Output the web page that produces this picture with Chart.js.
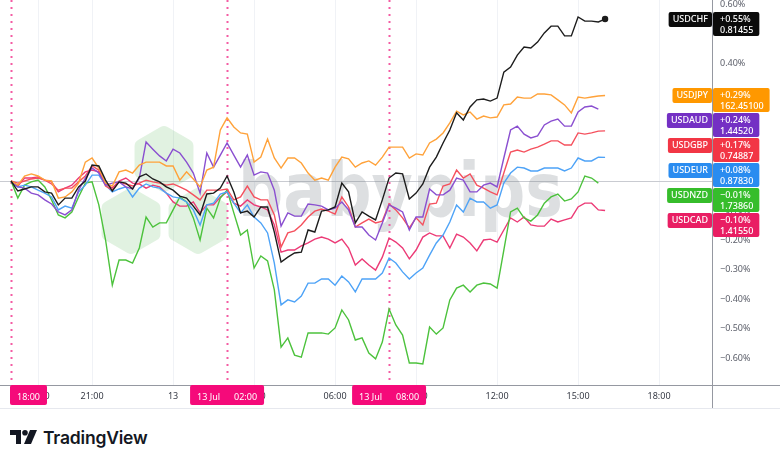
<!DOCTYPE html>
<html>
<head>
<meta charset="utf-8">
<script src="https://cdn.jsdelivr.net/npm/chart.js@4.4.1/dist/chart.umd.min.js"></script>
<style>
  html, body { margin: 0; padding: 0; background: #fff; }
  body { width: 780px; height: 462px; position: relative; overflow: hidden; font-family: "Noto Sans", sans-serif; }
  #wrap { position: absolute; left: 0; top: 0; width: 780px; height: 410px; }
  #logo { position: absolute; left: 10px; top: 426px; height: 22px; display: flex; align-items: center; gap: 6px; color: #131722; }
  #logo span { font-family: Inter, "Noto Sans", sans-serif; font-weight: 600; font-size: 17.5px; letter-spacing: -0.2px; }
</style>
</head>
<body>
<div id="wrap"><canvas id="perfChart" width="780" height="410"></canvas></div>
<div id="logo">
  <svg width="27" height="14" viewBox="0 0 27 14">
    <path d="M0 0 H11 V14 H6 V5 H0 Z" fill="#131722"/>
    <circle cx="15" cy="2.8" r="2.8" fill="#131722"/>
    <path d="M20 0 H27 L21 14 H14 Z" fill="#131722"/>
  </svg>
  <span>TradingView</span>
</div>
<script>
/* ---- DATA: % change since 12 Jul 18:00, 15-minute bars ---- */
const SYMBOLS = ['USDCHF', 'USDJPY', 'USDAUD', 'USDGBP', 'USDEUR', 'USDNZD', 'USDCAD'];
const PRICES  = ['0.81455', '162.45100', '1.44520', '0.74887', '0.87830', '1.73860', '1.41550'];

// hours relative to 13 Jul 00:00 (12 Jul 18:00 -> 13 Jul 16:00)
const HOURS = Array.from({ length: 89 }, (_, i) => -6 + i * 0.25);

const usdchf = [0, -0.034, -0.027, -0.02, -0.02, -0.037, -0.041, -0.081, -0.058, -0.058,
  -0.02, 0, 0.054, 0.051, 0.003, -0.034, -0.003, -0.007, -0.027, 0.014,
  0.024, 0.007, -0.003, -0.02, -0.031, -0.051, -0.058, -0.085, -0.115, -0.044,
  -0.041, -0.024, 0.017, -0.037, -0.108, -0.102, -0.122, -0.088, -0.088, -0.173,
  -0.275, -0.258, -0.244, -0.241, -0.166, -0.173, -0.102, -0.098, -0.088, -0.007,
  -0.037, -0.142, -0.105, -0.119, -0.132, -0.064, 0.01, 0.027, 0.024, -0.061,
  -0.041, -0.01, 0.047, 0.081, 0.129, 0.173, 0.231, 0.207, 0.251, 0.275,
  0.278, 0.271, 0.281, 0.369, 0.386, 0.427, 0.454, 0.451, 0.471, 0.502,
  0.525, 0.525, 0.492, 0.492, 0.556, 0.542, 0.542, 0.539, 0.549];

const usdjpy = [0, -0.014, 0.017, 0.024, 0.017, 0.003, 0, -0.058, -0.054, -0.037,
  -0.007, 0.064, 0.078, 0.044, -0.007, -0.017, 0.031, 0.037, 0.027, 0.054,
  0.064, 0.064, 0.064, 0.051, 0.051, 0.003, 0.031, 0.007, -0.02, 0.037,
  0.047, 0.173, 0.214, 0.183, 0.163, 0.159, 0.064, 0.081, 0.142, 0.078,
  0.044, 0.078, 0.078, 0.061, 0.027, 0.003, 0.01, 0.003, 0.047, 0.081,
  0.075, 0.047, 0.061, 0.068, 0.054, 0.081, 0.115, 0.115, 0.115, 0.078,
  0.092, 0.088, 0.129, 0.142, 0.163, 0.197, 0.237, 0.224, 0.234, 0.21,
  0.22, 0.214, 0.217, 0.258, 0.261, 0.285, 0.281, 0.281, 0.295, 0.295,
  0.292, 0.275, 0.258, 0.231, 0.285, 0.281, 0.285, 0.288, 0.29];

const usdaud = [-0.003, -0.02, -0.024, -0.041, -0.047, -0.064, -0.078, -0.105, -0.115, -0.098,
  -0.031, 0.01, 0.044, 0.027, -0.014, -0.007, -0.003, -0.02, -0.027, 0.01,
  0.132, 0.108, 0.085, 0.068, 0.108, 0.095, 0.064, 0.027, -0.041, 0.095,
  0.047, 0.088, 0.129, 0.088, 0.047, 0.088, 0.02, 0.031, 0.027, -0.031,
  -0.153, -0.108, -0.119, -0.119, -0.078, -0.081, -0.085, -0.098, -0.092, -0.071,
  -0.098, -0.156, -0.156, -0.183, -0.2, -0.142, -0.081, -0.092, -0.105, -0.166,
  -0.122, -0.122, -0.027, -0.047, -0.047, -0.031, 0.01, 0.003, -0.037, -0.037,
  -0.014, -0.007, -0.02, 0.078, 0.173, 0.186, 0.159, 0.146, 0.153, 0.19,
  0.203, 0.21, 0.186, 0.186, 0.234, 0.251, 0.254, 0.244, null];

const usdgbp = [0, -0.007, 0, 0.007, 0.01, 0.003, -0.01, -0.031, -0.024, -0.024,
  -0.003, 0.017, 0.051, 0.037, -0.017, -0.031, -0.003, -0.01, -0.017, -0.007,
  0.003, -0.003, -0.007, -0.014, -0.01, -0.02, -0.031, -0.047, -0.064, -0.031,
  -0.031, -0.031, -0.027, -0.064, -0.054, -0.017, -0.054, -0.064, -0.064, -0.115,
  -0.224, -0.176, -0.169, -0.149, -0.122, -0.102, -0.095, -0.102, -0.112, -0.054,
  -0.088, -0.156, -0.142, -0.129, -0.142, -0.136, -0.078, -0.098, -0.125, -0.159,
  -0.125, -0.149, -0.078, -0.075, -0.017, -0.01, 0.037, 0.01, 0.024, -0.014,
  -0.024, -0.037, -0.047, 0.027, 0.098, 0.105, 0.098, 0.108, 0.115, 0.125,
  0.136, 0.136, 0.122, 0.122, 0.163, 0.159, 0.163, 0.169, 0.17];

const usdeur = [0, -0.02, -0.014, -0.02, -0.031, -0.041, -0.054, -0.098, -0.085, -0.092,
  -0.037, -0.014, 0.02, 0.02, -0.014, -0.037, -0.027, -0.02, -0.054, -0.024,
  -0.01, -0.02, -0.024, -0.041, -0.054, -0.058, -0.071, -0.098, -0.149, -0.081,
  -0.075, -0.044, -0.037, -0.075, -0.108, -0.081, -0.122, -0.142, -0.176, -0.278,
  -0.42, -0.403, -0.41, -0.39, -0.346, -0.346, -0.332, -0.332, -0.353, -0.322,
  -0.342, -0.376, -0.332, -0.332, -0.332, -0.312, -0.261, -0.278, -0.308, -0.332,
  -0.312, -0.295, -0.251, -0.21, -0.183, -0.139, -0.081, -0.105, -0.058, -0.071,
  -0.071, -0.092, -0.081, -0.007, 0.027, 0.047, 0.044, 0.034, 0.034, 0.044,
  0.044, 0.044, 0.034, 0.044, 0.078, 0.068, 0.068, 0.081, 0.08];

const usdnzd = [0, -0.058, -0.014, -0.003, 0.003, -0.02, -0.064, -0.115, -0.125, -0.105,
  -0.054, -0.007, -0.003, -0.081, -0.2, -0.353, -0.268, -0.268, -0.278, -0.227,
  -0.122, -0.156, -0.142, -0.142, -0.098, -0.054, -0.071, -0.125, -0.2, -0.092,
  -0.125, -0.058, -0.031, -0.108, -0.183, -0.166, -0.295, -0.254, -0.271, -0.369,
  -0.563, -0.532, -0.59, -0.597, -0.515, -0.515, -0.515, -0.519, -0.498, -0.437,
  -0.471, -0.539, -0.532, -0.583, -0.603, -0.546, -0.434, -0.488, -0.522, -0.617,
  -0.617, -0.62, -0.495, -0.519, -0.498, -0.403, -0.363, -0.353, -0.376, -0.353,
  -0.346, -0.349, -0.363, -0.234, -0.105, -0.092, -0.125, -0.136, -0.115, -0.075,
  -0.054, -0.044, -0.068, -0.061, -0.037, 0.017, 0.01, -0.007, null];

const usdcad = [0, -0.017, 0.01, 0.01, 0.014, 0.003, -0.003, -0.037, -0.024, -0.014,
  0.01, 0.031, 0.037, 0.031, -0.01, -0.024, 0, 0.01, -0.007, -0.01,
  -0.024, -0.014, -0.02, -0.041, -0.071, -0.085, -0.085, -0.071, -0.108, -0.081,
  -0.081, -0.054, -0.037, -0.075, -0.085, -0.064, -0.081, -0.088, -0.098, -0.149,
  -0.241, -0.234, -0.234, -0.22, -0.21, -0.197, -0.19, -0.197, -0.21, -0.197,
  -0.227, -0.285, -0.264, -0.285, -0.302, -0.258, -0.193, -0.207, -0.227, -0.264,
  -0.234, -0.19, -0.176, -0.186, -0.186, -0.227, -0.18, -0.19, -0.21, -0.237,
  -0.2, -0.197, -0.207, -0.166, -0.125, -0.139, -0.122, -0.149, -0.153, -0.153,
  -0.129, -0.139, -0.132, -0.125, -0.088, -0.075, -0.075, -0.098, -0.1];

const SERIES = [usdchf, usdjpy, usdaud, usdgbp, usdeur, usdnzd, usdcad];

const TIME_TICKS  = [-5, -3, 0, 3, 6, 9, 12, 15, 18];
const TIME_LABELS = ['19:00', '21:00', '13', '03:00', '06:00', '09:00', '12:00', '15:00', '18:00'];
const SESSION_HOURS  = [-6, 2, 8];
const SESSION_DATES  = ['', '13 Jul', '13 Jul'];
const SESSION_LABELS = ['18:00', '02:00', '08:00'];

/* ---- STYLE ---- */
const LINE_COLORS  = ['#1c1c1c', '#ffa23a', '#8a4fd0', '#f5515e', '#4ea3f7', '#4cc23c', '#ec3a76'];
const BADGE_COLORS = ['#0b0b0b', '#ff9800', '#7430c4', '#f23645', '#2a8cf0', '#36bd2b', '#e91e63'];
const X_VIEW = [-6.41, 19.96];
const Y_VIEW = [-0.6915, 0.6136];
const FONT = '"Noto Sans", "Liberation Sans", sans-serif';
const PINK = '#f50a7a';

function fmtPct(v) {
  return (v < 0 ? '\u2212' : (v > 0 ? '+' : '')) + Math.abs(v).toFixed(2) + '%';
}

function roundedHex(ctx, cx, cy, r, rad) {
  const pts = [];
  for (let i = 0; i < 6; i++) {
    const a = Math.PI / 180 * (60 * i - 90);
    pts.push([cx + r * Math.cos(a), cy + r * Math.sin(a)]);
  }
  ctx.beginPath();
  ctx.moveTo((pts[5][0] + pts[0][0]) / 2, (pts[5][1] + pts[0][1]) / 2);
  for (let i = 0; i < 6; i++) {
    const p = pts[i], n = pts[(i + 1) % 6];
    ctx.arcTo(p[0], p[1], n[0], n[1], rad);
  }
  ctx.closePath();
  ctx.fill();
}

const overlay = {
  id: 'overlay',
  beforeDatasetsDraw(chart) {
    const { ctx, chartArea: a, scales: { x } } = chart;
    ctx.save();
    // babypips watermark
    ctx.fillStyle = 'rgba(76,175,80,0.17)';
    roundedHex(ctx, 164, 159, 34, 7);
    roundedHex(ctx, 131, 221, 34, 7);
    roundedHex(ctx, 198, 221, 34, 7);
    ctx.font = 'bold 74px "DejaVu Sans", sans-serif';
    ctx.fillStyle = 'rgba(110,115,125,0.23)';
    ctx.textBaseline = 'alphabetic';
    const w = ctx.measureText('babypips').width;
    ctx.translate(238, 216);
    ctx.scale(325 / w, 1);
    ctx.fillText('babypips', 0, 0);
    ctx.restore();

    // session separators
    ctx.save();
    ctx.strokeStyle = '#f45ca3';
    ctx.lineWidth = 2;
    ctx.setLineDash([2, 5]);
    SESSION_HOURS.forEach(h => {
      const px = Math.round(x.getPixelForValue(h)) + 0.5;
      ctx.beginPath();
      ctx.moveTo(px, a.top);
      ctx.lineTo(px, a.bottom);
      ctx.stroke();
    });
    ctx.restore();
  },
  afterDraw(chart) {
    const { ctx, chartArea: a, scales: { x, y } } = chart;
    ctx.save();
    // axis frame bits outside the plot
    ctx.strokeStyle = '#9598a1';
    ctx.lineWidth = 1;
    ctx.beginPath();
    ctx.moveTo(a.right, a.bottom + 0.5); ctx.lineTo(780, a.bottom + 0.5);
    ctx.moveTo(a.right + 0.5, a.bottom); ctx.lineTo(a.right + 0.5, 409);
    ctx.stroke();
    ctx.strokeStyle = '#e6e8ee';
    ctx.beginPath();
    ctx.moveTo(0, 408.5); ctx.lineTo(780, 408.5);
    ctx.stroke();

    // session time badges
    ctx.font = '9px ' + FONT;
    ctx.textBaseline = 'middle';
    ctx.textAlign = 'left';
    SESSION_HOURS.forEach((h, k) => {
      const px = x.getPixelForValue(h);
      const dW = SESSION_DATES[k] ? ctx.measureText(SESSION_DATES[k]).width + 14 : 0;
      const tW = ctx.measureText(SESSION_LABELS[k]).width;
      const bw = dW + tW + 14;
      const left = Math.max(px - bw / 2, a.left + 10);
      ctx.fillStyle = PINK;
      ctx.beginPath(); ctx.roundRect(left, a.bottom, bw, 20, 2); ctx.fill();
      ctx.fillStyle = '#fff';
      if (SESSION_DATES[k]) ctx.fillText(SESSION_DATES[k], left + 7, a.bottom + 12);
      ctx.fillText(SESSION_LABELS[k], left + 7 + dW, a.bottom + 12);
    });

    // last value badges on the price scale
    ctx.font = '500 9px ' + FONT;
    const items = SYMBOLS.map((s, k) => {
      const arr = SERIES[k];
      let last = null;
      for (let i = arr.length - 1; i >= 0; i--) if (arr[i] !== null) { last = arr[i]; break; }
      return { k, v: last, py: y.getPixelForValue(last) };
    }).sort((p, q) => p.py - q.py);
    let prevTop = -Infinity;
    items.forEach(it => {
      const top = Math.max(Math.round(it.py - 7), prevTop + 25);
      prevTop = top;
      const col = BADGE_COLORS[it.k];
      const l1 = fmtPct(it.v), l2 = PRICES[it.k];
      const vw = Math.max(ctx.measureText(l1).width, ctx.measureText(l2).width) + 13;
      ctx.fillStyle = col;
      ctx.beginPath(); ctx.roundRect(a.right + 1, top, vw, 24, 2); ctx.fill();
      const nw = ctx.measureText(SYMBOLS[it.k]).width + 8;
      ctx.beginPath(); ctx.roundRect(a.right - nw, top, nw, 15, 2); ctx.fill();
      ctx.fillStyle = '#fff';
      ctx.fillText(SYMBOLS[it.k], a.right - nw + 4, top + 7.5);
      ctx.fillText(l1, a.right + 8, top + 7.5);
      ctx.fillText(l2, a.right + 8, top + 18.5);
    });
    ctx.restore();
  }
};

const last = usdchf.length - 1;
new Chart(document.getElementById('perfChart'), {
  type: 'line',
  data: {
    datasets: SYMBOLS.map((s, k) => ({
      label: s,
      data: SERIES[k].map((v, i) => ({ x: HOURS[i], y: v })),
      borderColor: LINE_COLORS[k],
      backgroundColor: LINE_COLORS[k],
      borderWidth: 1.4,
      pointRadius: k === 0 ? (c => c.dataIndex === last ? 2.5 : 0) : 0,
      pointHoverRadius: 0,
      tension: 0,
      spanGaps: false
    }))
  },
  options: {
    responsive: false,
    animation: false,
    layout: { padding: 0, autoPadding: false },
    plugins: { legend: { display: false }, tooltip: { enabled: false } },
    scales: {
      x: {
        type: 'linear', position: 'bottom', min: X_VIEW[0], max: X_VIEW[1],
        afterBuildTicks: s => { s.ticks = TIME_TICKS.map(v => ({ value: v })); },
        afterFit: s => { s.height = 25; s.paddingLeft = 0; s.paddingRight = 0; },
        ticks: {
          autoSkip: false, maxRotation: 0, padding: 6, color: '#363a45',
          font: { size: 9, family: FONT },
          callback: v => TIME_LABELS[TIME_TICKS.indexOf(v)]
        },
        grid: { color: '#f0f2f6', drawTicks: false },
        border: { color: '#9598a1' }
      },
      y: {
        type: 'linear', position: 'right', min: Y_VIEW[0], max: Y_VIEW[1],
        afterFit: s => { s.width = 68; s.paddingTop = 0; s.paddingBottom = 0; },
        ticks: {
          stepSize: 0.1, includeBounds: false, padding: 8, color: '#5d606b',
          font: { size: 9, family: FONT },
          callback: v => (v < -1e-9 ? '\u2212' : '') + Math.abs(v).toFixed(2) + '%'
        },
        grid: {
          drawTicks: false,
          color: c => (c.tick && Math.abs(c.tick.value) < 1e-6) ? '#c9cbd1' : 'rgba(0,0,0,0)'
        },
        border: { color: '#9598a1' }
      }
    }
  },
  plugins: [overlay]
});
</script>
</body>
</html>
